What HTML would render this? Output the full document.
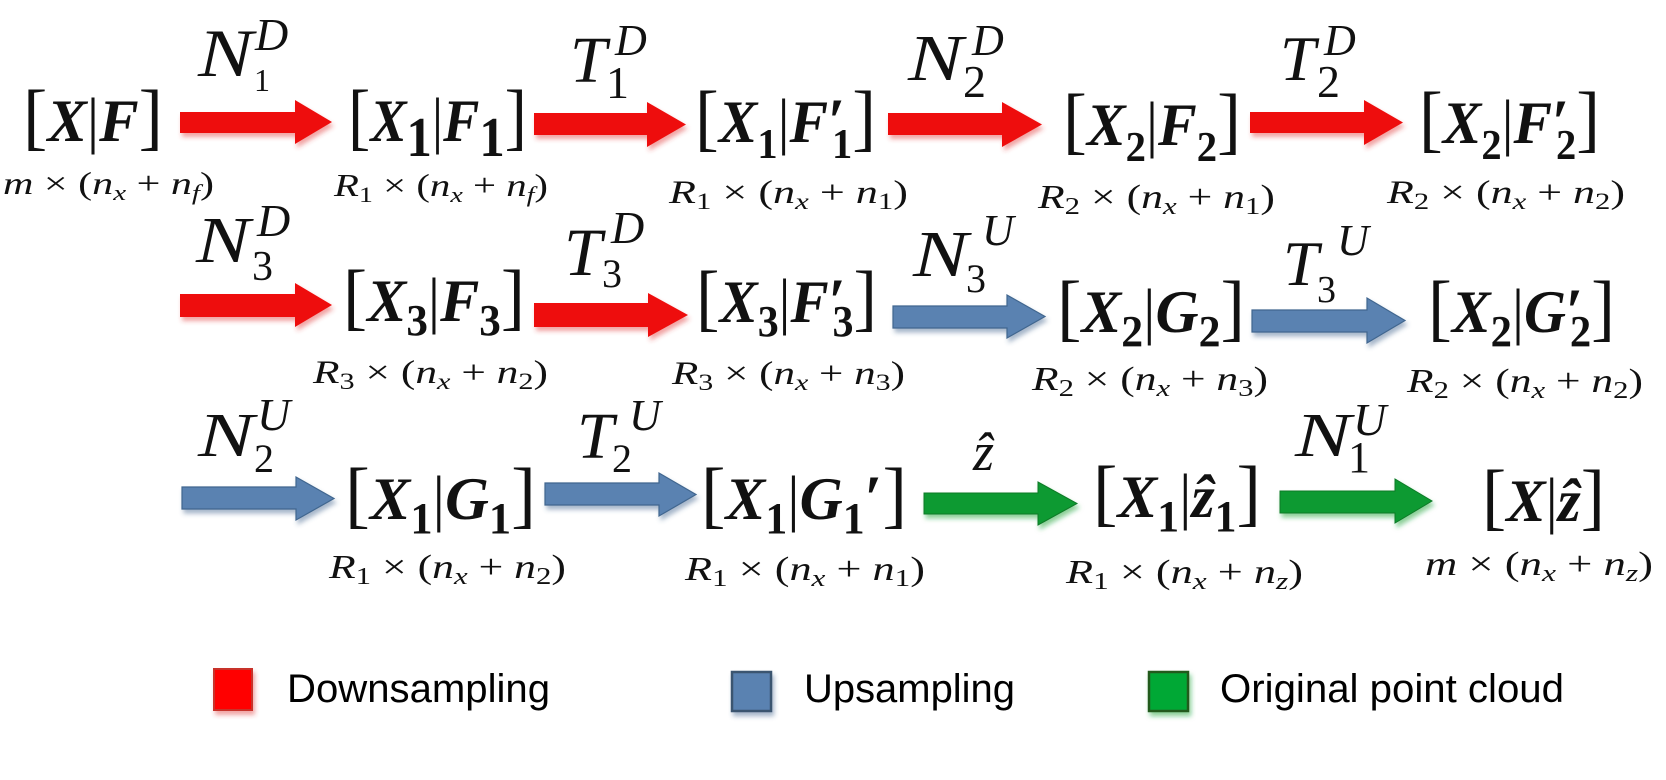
<!DOCTYPE html>
<html><head><meta charset="utf-8"><style>
html,body{margin:0;padding:0;background:#fff;}
svg{display:block;}
text{font-family:"Liberation Serif","DejaVu Serif",serif;fill:#111;white-space:pre;}
.bi{font-weight:bold;font-style:italic;}
.b{font-weight:bold;}
.i{font-style:italic;}
.lg{font-family:"Liberation Sans","DejaVu Sans",sans-serif;fill:#000;}
</style></head><body>
<svg width="1666" height="780" viewBox="0 0 1666 780" xmlns="http://www.w3.org/2000/svg">
<defs>
<filter id="shr" x="-10%" y="-20%" width="130%" height="160%"><feDropShadow dx="2" dy="4" stdDeviation="2.5" flood-color="#e03030" flood-opacity="0.45"/></filter>
<filter id="shb" x="-10%" y="-20%" width="130%" height="160%"><feDropShadow dx="2" dy="4" stdDeviation="2.5" flood-color="#3a5f8a" flood-opacity="0.45"/></filter>
<filter id="shg" x="-10%" y="-20%" width="130%" height="160%"><feDropShadow dx="2" dy="4" stdDeviation="2.5" flood-color="#10a030" flood-opacity="0.5"/></filter>
</defs>

<!-- Arrows -->
<g fill="#ee1111" filter="url(#shr)">
<polygon points="180,112 295,112 295,100 332,122 295,144 295,133 180,133"/>
<polygon points="534,113 647,113 647,102 686,124.5 647,147 647,135 534,135"/>
<polygon points="888,113 1002,113 1002,102 1042,124.5 1002,147 1002,135 888,135"/>
<polygon points="1250,112 1364,112 1364,100 1403,122.5 1364,145 1364,133 1250,133"/>
<polygon points="180,294 295,294 295,283 332,305 295,327 295,317 180,317"/>
<polygon points="534,303 648,303 648,293 688,315 648,337 648,327 534,327"/>
</g>
<g fill="#5a82b1" stroke="#41668f" stroke-width="1.2" filter="url(#shb)">
<polygon points="893,306 1007,306 1007,295 1045,316.5 1007,338 1007,328 893,328"/>
<polygon points="1252,310 1367,310 1367,298 1405,320.5 1367,343 1367,332 1252,332"/>
<polygon points="182,487 296,487 296,477 334,498.5 296,520 296,509 182,509"/>
<polygon points="545,483 659,483 659,473 696,494.5 659,516 659,505 545,505"/>
</g>
<g fill="#089a30" stroke="#0a7a28" stroke-width="1" filter="url(#shg)">
<polygon points="924,493 1038,493 1038,482 1077,503.5 1038,525 1038,514 924,514"/>
<polygon points="1280,491 1395,491 1395,479 1432,501 1395,523 1395,513 1280,513"/>
</g>

<!-- Arrow labels -->
<text class="i" x="198" y="76" font-size="68" textLength="55" lengthAdjust="spacingAndGlyphs">N</text>
<text class="i" x="255" y="50" font-size="46">D</text>
<text x="254" y="91" font-size="32">1</text>

<text class="i" x="570" y="82" font-size="66">T</text>
<text class="i" x="615" y="55" font-size="44">D</text>
<text x="606" y="98" font-size="46">1</text>

<text class="i" x="908" y="80" font-size="66" textLength="55" lengthAdjust="spacingAndGlyphs">N</text>
<text class="i" x="972" y="55" font-size="44">D</text>
<text x="963" y="97" font-size="46">2</text>

<text class="i" x="1280" y="80" font-size="64">T</text>
<text class="i" x="1324" y="55" font-size="44">D</text>
<text x="1317" y="97" font-size="46">2</text>

<text class="i" x="196" y="262" font-size="66" textLength="54" lengthAdjust="spacingAndGlyphs">N</text>
<text class="i" x="257" y="236" font-size="46">D</text>
<text x="252" y="280" font-size="42">3</text>

<text class="i" x="564" y="275" font-size="68">T</text>
<text class="i" x="611" y="243" font-size="46">D</text>
<text x="602" y="287" font-size="40">3</text>

<text class="i" x="913" y="276" font-size="66" textLength="55" lengthAdjust="spacingAndGlyphs">N</text>
<text class="i" x="982" y="245" font-size="44">U</text>
<text x="966" y="292" font-size="40">3</text>

<text class="i" x="1283" y="285" font-size="64">T</text>
<text class="i" x="1337" y="255" font-size="44">U</text>
<text x="1317" y="302" font-size="38">3</text>

<text class="i" x="198" y="456" font-size="62" textLength="56" lengthAdjust="spacingAndGlyphs">N</text>
<text class="i" x="257" y="430" font-size="46">U</text>
<text x="254" y="472" font-size="40">2</text>

<text class="i" x="577" y="458" font-size="66">T</text>
<text class="i" x="629" y="430" font-size="44">U</text>
<text x="612" y="472" font-size="40">2</text>

<text class="i" x="973" y="470" font-size="54">ẑ</text>

<text class="i" x="1295" y="456" font-size="62" textLength="56" lengthAdjust="spacingAndGlyphs">N</text>
<text class="i" x="1353" y="435" font-size="46">U</text>
<text x="1348" y="472" font-size="44">1</text>

<!-- Nodes row 1 -->
<text x="23" y="141" font-size="60" textLength="140" lengthAdjust="spacingAndGlyphs"><tspan font-size="74">[</tspan><tspan class="bi">X</tspan><tspan font-size="62">|</tspan><tspan class="bi">F</tspan><tspan font-size="74">]</tspan></text>

<text x="348" y="141" font-size="60" textLength="179" lengthAdjust="spacingAndGlyphs"><tspan font-size="74">[</tspan><tspan class="bi">X</tspan><tspan class="b" font-size="56" dy="15">1</tspan><tspan font-size="62" dy="-15">|</tspan><tspan class="bi">F</tspan><tspan class="b" font-size="56" dy="15">1</tspan><tspan font-size="74" dy="-15">]</tspan></text>

<text x="695" y="142" font-size="60" textLength="181" lengthAdjust="spacingAndGlyphs"><tspan font-size="74">[</tspan><tspan class="bi">X</tspan><tspan class="b" font-size="42" dy="16">1</tspan><tspan font-size="62" dy="-16">|</tspan><tspan class="bi">F</tspan><tspan class="b" font-size="64">′</tspan><tspan class="b" font-size="42" dx="-14" dy="16">1</tspan><tspan font-size="74" dy="-16">]</tspan></text>

<text x="1063" y="145" font-size="60" textLength="178" lengthAdjust="spacingAndGlyphs"><tspan font-size="74">[</tspan><tspan class="bi">X</tspan><tspan class="b" font-size="42" dy="16">2</tspan><tspan font-size="62" dy="-16">|</tspan><tspan class="bi">F</tspan><tspan class="b" font-size="42" dy="16">2</tspan><tspan font-size="74" dy="-16">]</tspan></text>

<text x="1419" y="143" font-size="60" textLength="181" lengthAdjust="spacingAndGlyphs"><tspan font-size="74">[</tspan><tspan class="bi">X</tspan><tspan class="b" font-size="42" dy="16">2</tspan><tspan font-size="62" dy="-16">|</tspan><tspan class="bi">F</tspan><tspan class="b" font-size="64">′</tspan><tspan class="b" font-size="42" dx="-14" dy="16">2</tspan><tspan font-size="74" dy="-16">]</tspan></text>

<!-- Nodes row 2 -->
<text x="343" y="321" font-size="60" textLength="182" lengthAdjust="spacingAndGlyphs"><tspan font-size="74">[</tspan><tspan class="bi">X</tspan><tspan class="b" font-size="44" dy="14">3</tspan><tspan font-size="62" dy="-14">|</tspan><tspan class="bi">F</tspan><tspan class="b" font-size="44" dy="14">3</tspan><tspan font-size="74" dy="-14">]</tspan></text>

<text x="696" y="322" font-size="60" textLength="181" lengthAdjust="spacingAndGlyphs"><tspan font-size="74">[</tspan><tspan class="bi">X</tspan><tspan class="b" font-size="44" dy="14">3</tspan><tspan font-size="62" dy="-14">|</tspan><tspan class="bi">F</tspan><tspan class="b" font-size="64">′</tspan><tspan class="b" font-size="44" dx="-14" dy="14">3</tspan><tspan font-size="74" dy="-14">]</tspan></text>

<text x="1057" y="332" font-size="60" textLength="188" lengthAdjust="spacingAndGlyphs"><tspan font-size="74">[</tspan><tspan class="bi">X</tspan><tspan class="b" font-size="44" dy="14">2</tspan><tspan font-size="62" dy="-14">|</tspan><tspan class="bi">G</tspan><tspan class="b" font-size="44" dy="14">2</tspan><tspan font-size="74" dy="-14">]</tspan></text>

<text x="1428" y="332" font-size="60" textLength="187" lengthAdjust="spacingAndGlyphs"><tspan font-size="74">[</tspan><tspan class="bi">X</tspan><tspan class="b" font-size="44" dy="14">2</tspan><tspan font-size="62" dy="-14">|</tspan><tspan class="bi">G</tspan><tspan class="b" font-size="64">′</tspan><tspan class="b" font-size="44" dx="-14" dy="14">2</tspan><tspan font-size="74" dy="-14">]</tspan></text>

<!-- Nodes row 3 -->
<text x="345" y="519" font-size="60" textLength="191" lengthAdjust="spacingAndGlyphs"><tspan font-size="74">[</tspan><tspan class="bi">X</tspan><tspan class="b" font-size="44" dy="14">1</tspan><tspan font-size="62" dy="-14">|</tspan><tspan class="bi">G</tspan><tspan class="b" font-size="44" dy="14">1</tspan><tspan font-size="74" dy="-14">]</tspan></text>

<text x="701" y="519" font-size="60" textLength="206" lengthAdjust="spacingAndGlyphs"><tspan font-size="74">[</tspan><tspan class="bi">X</tspan><tspan class="b" font-size="44" dy="14">1</tspan><tspan font-size="62" dy="-14">|</tspan><tspan class="bi">G</tspan><tspan class="b" font-size="44" dy="14">1</tspan><tspan class="b" font-size="64" dy="-14">′</tspan><tspan font-size="74">]</tspan></text>

<text x="1093" y="517" font-size="60" textLength="168" lengthAdjust="spacingAndGlyphs"><tspan font-size="74">[</tspan><tspan class="bi">X</tspan><tspan class="b" font-size="44" dy="14">1</tspan><tspan font-size="62" dy="-14">|</tspan><tspan class="bi">ẑ</tspan><tspan class="b" font-size="44" dy="14">1</tspan><tspan font-size="74" dy="-14">]</tspan></text>

<text x="1482" y="521" font-size="60" textLength="123" lengthAdjust="spacingAndGlyphs"><tspan font-size="74">[</tspan><tspan class="bi">X</tspan><tspan font-size="62">|</tspan><tspan class="bi">ẑ</tspan><tspan font-size="74">]</tspan></text>

<!-- Dimension subtitles -->
<text x="3" y="194" font-size="32" textLength="211" lengthAdjust="spacingAndGlyphs"><tspan class="i">m</tspan> × (<tspan class="i">n</tspan><tspan class="i" font-size="22" dy="6">x</tspan><tspan dy="-6"> + </tspan><tspan class="i">n</tspan><tspan class="i" font-size="22" dy="6">f</tspan><tspan dy="-6">)</tspan></text>

<text x="334" y="196" font-size="32" textLength="214" lengthAdjust="spacingAndGlyphs"><tspan class="i">R</tspan><tspan font-size="22" dy="6">1</tspan><tspan dy="-6"> × (</tspan><tspan class="i">n</tspan><tspan class="i" font-size="22" dy="6">x</tspan><tspan dy="-6"> + </tspan><tspan class="i">n</tspan><tspan class="i" font-size="22" dy="6">f</tspan><tspan dy="-6">)</tspan></text>

<text x="669" y="203" font-size="33" textLength="239" lengthAdjust="spacingAndGlyphs"><tspan class="i">R</tspan><tspan font-size="23" dy="6">1</tspan><tspan dy="-6"> × (</tspan><tspan class="i">n</tspan><tspan class="i" font-size="23" dy="6">x</tspan><tspan dy="-6"> + </tspan><tspan class="i">n</tspan><tspan font-size="23" dy="6">1</tspan><tspan dy="-6">)</tspan></text>

<text x="1038" y="208" font-size="34" textLength="237" lengthAdjust="spacingAndGlyphs"><tspan class="i">R</tspan><tspan font-size="24" dy="6">2</tspan><tspan dy="-6"> × (</tspan><tspan class="i">n</tspan><tspan class="i" font-size="24" dy="6">x</tspan><tspan dy="-6"> + </tspan><tspan class="i">n</tspan><tspan font-size="24" dy="6">1</tspan><tspan dy="-6">)</tspan></text>

<text x="1387" y="203" font-size="33" textLength="238" lengthAdjust="spacingAndGlyphs"><tspan class="i">R</tspan><tspan font-size="23" dy="6">2</tspan><tspan dy="-6"> × (</tspan><tspan class="i">n</tspan><tspan class="i" font-size="23" dy="6">x</tspan><tspan dy="-6"> + </tspan><tspan class="i">n</tspan><tspan font-size="23" dy="6">2</tspan><tspan dy="-6">)</tspan></text>

<text x="313" y="383" font-size="33" textLength="235" lengthAdjust="spacingAndGlyphs"><tspan class="i">R</tspan><tspan font-size="23" dy="6">3</tspan><tspan dy="-6"> × (</tspan><tspan class="i">n</tspan><tspan class="i" font-size="23" dy="6">x</tspan><tspan dy="-6"> + </tspan><tspan class="i">n</tspan><tspan font-size="23" dy="6">2</tspan><tspan dy="-6">)</tspan></text>

<text x="672" y="384" font-size="33" textLength="233" lengthAdjust="spacingAndGlyphs"><tspan class="i">R</tspan><tspan font-size="23" dy="6">3</tspan><tspan dy="-6"> × (</tspan><tspan class="i">n</tspan><tspan class="i" font-size="23" dy="6">x</tspan><tspan dy="-6"> + </tspan><tspan class="i">n</tspan><tspan font-size="23" dy="6">3</tspan><tspan dy="-6">)</tspan></text>

<text x="1032" y="390" font-size="34" textLength="236" lengthAdjust="spacingAndGlyphs"><tspan class="i">R</tspan><tspan font-size="24" dy="6">2</tspan><tspan dy="-6"> × (</tspan><tspan class="i">n</tspan><tspan class="i" font-size="24" dy="6">x</tspan><tspan dy="-6"> + </tspan><tspan class="i">n</tspan><tspan font-size="24" dy="6">3</tspan><tspan dy="-6">)</tspan></text>

<text x="1407" y="392" font-size="34" textLength="236" lengthAdjust="spacingAndGlyphs"><tspan class="i">R</tspan><tspan font-size="24" dy="6">2</tspan><tspan dy="-6"> × (</tspan><tspan class="i">n</tspan><tspan class="i" font-size="24" dy="6">x</tspan><tspan dy="-6"> + </tspan><tspan class="i">n</tspan><tspan font-size="24" dy="6">2</tspan><tspan dy="-6">)</tspan></text>

<text x="329" y="578" font-size="34" textLength="237" lengthAdjust="spacingAndGlyphs"><tspan class="i">R</tspan><tspan font-size="24" dy="6">1</tspan><tspan dy="-6"> × (</tspan><tspan class="i">n</tspan><tspan class="i" font-size="24" dy="6">x</tspan><tspan dy="-6"> + </tspan><tspan class="i">n</tspan><tspan font-size="24" dy="6">2</tspan><tspan dy="-6">)</tspan></text>

<text x="685" y="580" font-size="34" textLength="240" lengthAdjust="spacingAndGlyphs"><tspan class="i">R</tspan><tspan font-size="24" dy="6">1</tspan><tspan dy="-6"> × (</tspan><tspan class="i">n</tspan><tspan class="i" font-size="24" dy="6">x</tspan><tspan dy="-6"> + </tspan><tspan class="i">n</tspan><tspan font-size="24" dy="6">1</tspan><tspan dy="-6">)</tspan></text>

<text x="1066" y="583" font-size="34" textLength="237" lengthAdjust="spacingAndGlyphs"><tspan class="i">R</tspan><tspan font-size="24" dy="6">1</tspan><tspan dy="-6"> × (</tspan><tspan class="i">n</tspan><tspan class="i" font-size="24" dy="6">x</tspan><tspan dy="-6"> + </tspan><tspan class="i">n</tspan><tspan class="i" font-size="24" dy="6">z</tspan><tspan dy="-6">)</tspan></text>

<text x="1425" y="575" font-size="34" textLength="228" lengthAdjust="spacingAndGlyphs"><tspan class="i">m</tspan> × (<tspan class="i">n</tspan><tspan class="i" font-size="24" dy="6">x</tspan><tspan dy="-6"> + </tspan><tspan class="i">n</tspan><tspan class="i" font-size="24" dy="6">z</tspan><tspan dy="-6">)</tspan></text>

<!-- Legend -->
<rect x="214" y="669" width="38" height="41" fill="#ff0000" stroke="#c8302a" stroke-width="2" filter="url(#shr)"/>
<text class="lg" x="287" y="702" font-size="40" textLength="263" lengthAdjust="spacingAndGlyphs">Downsampling</text>
<rect x="732" y="672" width="39" height="39" fill="#5a82b1" stroke="#3a5570" stroke-width="2.5" filter="url(#shb)"/>
<text class="lg" x="804" y="702" font-size="40" textLength="211" lengthAdjust="spacingAndGlyphs">Upsampling</text>
<rect x="1149" y="672" width="39" height="39" fill="#00a836" stroke="#245a1c" stroke-width="2.5" filter="url(#shg)"/>
<text class="lg" x="1220" y="702" font-size="40" textLength="344" lengthAdjust="spacingAndGlyphs">Original point cloud</text>
</svg>
</body></html>
